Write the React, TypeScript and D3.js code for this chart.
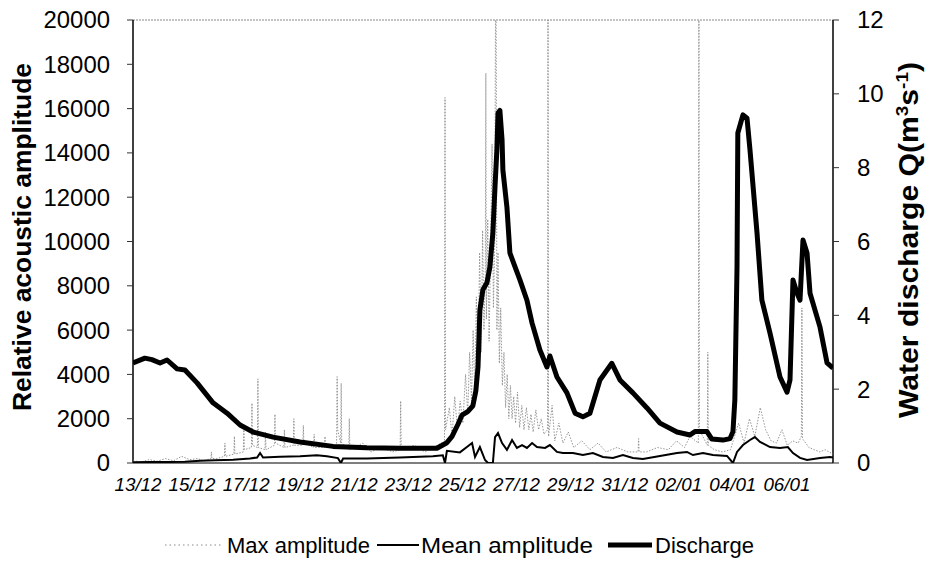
import React from "react";
import * as d3 from "d3";

// ---- data (day offset from 13/12 00:00) ----
const dischargeDays = [0,0.44,0.7,1.0,1.26,1.63,1.92,2.37,2.96,3.48,3.96,4.44,5.18,6.18,7.4,8.65,9.87,11.24,11.61,11.8,12.02,12.17,12.39,12.57,12.68,12.76,12.83,12.94,13.09,13.2,13.31,13.39,13.46,13.5,13.57,13.65,13.68,13.83,13.94,14.13,14.31,14.57,14.76,15.05,15.31,15.42,15.68,16.05,16.35,16.64,16.9,17.27,17.71,18.01,18.49,19.01,19.49,20.12,20.6,20.78,21.23,21.41,21.82,22.08,22.19,22.26,22.34,22.37,22.56,22.71,22.82,23.08,23.26,23.56,23.93,24.19,24.3,24.41,24.56,24.67,24.78,24.93,25.04,25.41,25.67,25.89];
const dischargeQ = [2.71,2.84,2.8,2.71,2.79,2.55,2.52,2.17,1.63,1.35,1.03,0.84,0.7,0.57,0.45,0.41,0.4,0.4,0.55,0.72,1.05,1.3,1.4,1.55,1.95,2.6,4.14,4.69,4.88,5.31,6.23,7.5,8.5,9.48,9.55,8.75,7.94,6.93,5.69,5.31,4.96,4.41,3.79,3.06,2.6,2.9,2.33,1.9,1.35,1.25,1.35,2.25,2.7,2.25,1.9,1.49,1.08,0.84,0.76,0.85,0.85,0.65,0.62,0.66,0.85,1.71,5.31,8.94,9.43,9.34,8.48,6.23,4.41,3.52,2.33,1.92,2.25,4.96,4.6,4.41,6.04,5.69,4.6,3.68,2.71,2.57];

const meanDays = [0,0.63,1.26,1.92,2.48,3.03,3.7,4.33,4.59,4.7,4.81,5.44,6.18,6.8,7.17,7.58,7.69,7.77,8.65,9.87,11.09,11.46,11.54,11.61,12.09,12.35,12.54,12.65,12.83,13.02,13.13,13.31,13.39,13.5,13.65,13.83,14.02,14.2,14.39,14.57,14.76,14.94,15.24,15.42,15.68,15.9,16.27,16.64,17.01,17.38,17.75,18.12,18.49,18.86,19.49,20.12,20.49,20.71,21.08,21.45,21.97,22.19,22.34,22.56,22.82,23.0,23.19,23.56,23.93,24.22,24.41,24.67,24.93,25.41,25.78,25.89];
const meanAmp = [30,40,50,60,100,120,150,200,250,450,250,280,300,350,300,220,0,200,200,250,300,350,0,550,480,720,900,270,720,135,0,0,1170,1350,900,590,1040,680,810,680,900,720,680,810,500,450,450,360,450,270,230,360,230,180,320,450,500,360,450,360,320,0,500,810,1040,1170,950,720,680,720,450,230,135,230,270,250];

const maxDays = [0,0.3,0.6,0.9,1.2,1.5,1.8,2.1,2.4,2.6,2.88,2.9,2.92,3.1,3.38,3.4,3.42,3.73,3.75,3.77,4.08,4.1,4.12,4.38,4.4,4.42,4.6,4.62,4.64,4.88,4.9,4.92,5.23,5.25,5.27,5.58,5.6,5.62,5.93,5.95,5.97,6.28,6.3,6.32,6.68,6.7,6.72,7.08,7.1,7.12,7.53,7.55,7.57,7.68,7.7,7.72,7.98,8.0,8.02,8.5,8.8,9.2,9.6,9.88,9.9,9.92,10.4,10.8,11.1,11.4,11.52,11.54,11.56,11.7,11.8,11.9,12.0,12.1,12.2,12.3,12.38,12.45,12.52,12.58,12.64,12.7,12.76,12.82,12.88,12.93,12.98,13.03,13.05,13.07,13.12,13.17,13.22,13.28,13.33,13.38,13.42,13.46,13.5,13.55,13.6,13.66,13.72,13.78,13.84,13.9,13.96,14.02,14.08,14.15,14.22,14.3,14.38,14.46,14.55,14.64,14.72,14.8,14.9,15.0,15.1,15.2,15.33,15.35,15.37,15.5,15.6,15.75,15.9,16.1,16.3,16.6,16.9,17.2,17.5,17.9,18.3,18.68,18.7,18.72,19.0,19.4,19.8,20.1,20.4,20.6,20.91,20.93,20.95,21.24,21.26,21.28,21.5,21.8,22.1,22.4,22.6,22.8,23.0,23.2,23.4,23.6,23.8,24.0,24.2,24.4,24.6,24.72,24.74,24.76,25.0,25.2,25.4,25.6,25.89];
const maxAmp = [100,50,150,80,200,100,300,150,200,100,200,500,200,200,300,900,300,400,1200,400,500,1500,600,700,2700,800,700,3800,700,600,1400,600,800,2200,900,700,1500,700,800,2000,800,800,1700,900,700,1300,700,700,1200,800,800,3900,1500,900,3600,900,600,2000,600,900,500,700,500,600,2800,600,800,500,700,900,900,16500,1500,2500,1200,3000,1500,2800,1800,4000,2200,5000,2800,6000,3200,7500,4000,9500,5000,10500,6000,8500,17600,6500,11000,5500,9000,14400,7000,10000,25000,6000,9500,4500,7000,3500,5000,2500,4000,2000,3500,2000,3000,1800,3200,1600,2600,1500,2500,1500,2200,1400,2400,1500,2000,1300,1500,25000,1200,2600,1000,1800,900,1400,700,1000,600,900,500,700,500,500,1100,500,500,700,600,1000,700,1200,900,25000,1500,800,5000,800,600,500,600,1800,900,2000,1200,2500,1500,1000,900,1500,800,1000,900,1200,7000,1100,700,600,500,600,400];

const xTickLabels = ["13/12","15/12","17/12","19/12","21/12","23/12","25/12","27/12","29/12","31/12","02/01","04/01","06/01"];
const leftTicks = [0,2000,4000,6000,8000,10000,12000,14000,16000,18000,20000];
const rightTicks = [0,2,4,6,8,10,12];

const W = 929, H = 564;
const L = 133, R = 833, T = 20, B = 463;
const FONT = "'Liberation Sans', Arial, Helvetica, sans-serif";

export default function App() {
  const x = d3.scaleLinear().domain([0, 25.89]).range([L, R]);
  const yL = d3.scaleLinear().domain([0, 20000]).range([B, T]);
  const yR = d3.scaleLinear().domain([0, 12]).range([B, T]);

  const maxLine = d3.line<number>().x((_, i) => x(maxDays[i])).y((d) => yL(d))(maxAmp) || "";
  const meanLine = d3.line<number>().x((_, i) => x(meanDays[i])).y((d) => yL(d))(meanAmp) || "";
  const qLine = d3.line<number>().x((_, i) => x(dischargeDays[i])).y((d) => yR(d))(dischargeQ) || "";

  return (
    <svg width={W} height={H} style={{ position: "absolute", left: 0, top: 0, background: "#fff" }} fontFamily={FONT}>
      <defs>
        <clipPath id="plot">
          <rect x={L} y={T} width={R - L} height={B - T} />
        </clipPath>
      </defs>
      {/* frame */}
      <line x1={L} x2={R} y1={T} y2={T} stroke="#888" strokeWidth={1} strokeDasharray="2,1" />
      <line x1={L} x2={R} y1={B} y2={B} stroke="#555" strokeWidth={1.5} />
      <line x1={L} x2={L} y1={T} y2={B} stroke="#000" strokeWidth={1.5} />
      <line x1={R} x2={R} y1={T} y2={B} stroke="#000" strokeWidth={1.5} />

      {/* left axis */}
      {leftTicks.map((v) => (
        <g key={"l" + v}>
          <line x1={L - 6} x2={L} y1={yL(v)} y2={yL(v)} stroke="#333" />
          <text x={110} y={yL(v)} dy="0.35em" textAnchor="end" fontSize={24} textLength={String(v).length * 13.3} lengthAdjust="spacingAndGlyphs">{v}</text>
        </g>
      ))}
      {/* right axis */}
      {rightTicks.map((v) => (
        <g key={"r" + v}>
          <line x1={R} x2={R + 6} y1={yR(v)} y2={yR(v)} stroke="#333" />
          <text x={857} y={yR(v)} dy="0.35em" textAnchor="start" fontSize={24}>{v}</text>
        </g>
      ))}
      {/* x labels */}
      {xTickLabels.map((t, i) => (
        <text key={t} x={x(i * 2) + 5} y={491} textAnchor="middle" fontSize={18} fontStyle="italic" textLength={47} lengthAdjust="spacingAndGlyphs">{t}</text>
      ))}

      {/* series */}
      <g clipPath="url(#plot)">
        <path d={maxLine} fill="none" stroke="#8a8a8a" strokeWidth={0.9} strokeDasharray="1.5,1.5" />
        <path d={meanLine} fill="none" stroke="#000" strokeWidth={2} />
        <path d={qLine} fill="none" stroke="#000" strokeWidth={5} strokeLinejoin="round" />
      </g>

      {/* titles */}
      <text transform={`translate(31,237) rotate(-90)`} textAnchor="middle" fontSize={26} fontWeight="bold" textLength={348} lengthAdjust="spacingAndGlyphs">Relative acoustic amplitude</text>
      <text transform={`translate(918,240) rotate(-90)`} textAnchor="middle" fontSize={27} fontWeight="bold" textLength={356} lengthAdjust="spacingAndGlyphs">
        Water discharge Q(m<tspan dy="-10" fontSize={17}>3</tspan><tspan dy="10">s</tspan><tspan dy="-10" fontSize={17}>-1</tspan><tspan dy="10">)</tspan>
      </text>

      {/* legend */}
      <line x1={165} x2={222} y1={545} y2={545} stroke="#8a8a8a" strokeWidth={1} strokeDasharray="1.5,3" />
      <text x={227} y={553} fontSize={22}>Max amplitude</text>
      <line x1={377} x2={419} y1={545} y2={545} stroke="#000" strokeWidth={2} />
      <text x={421} y={553} fontSize={22} textLength={172} lengthAdjust="spacingAndGlyphs">Mean amplitude</text>
      <line x1={608} x2={652} y1={545} y2={545} stroke="#000" strokeWidth={5} />
      <text x={655} y={553} fontSize={22}>Discharge</text>
    </svg>
  );
}
